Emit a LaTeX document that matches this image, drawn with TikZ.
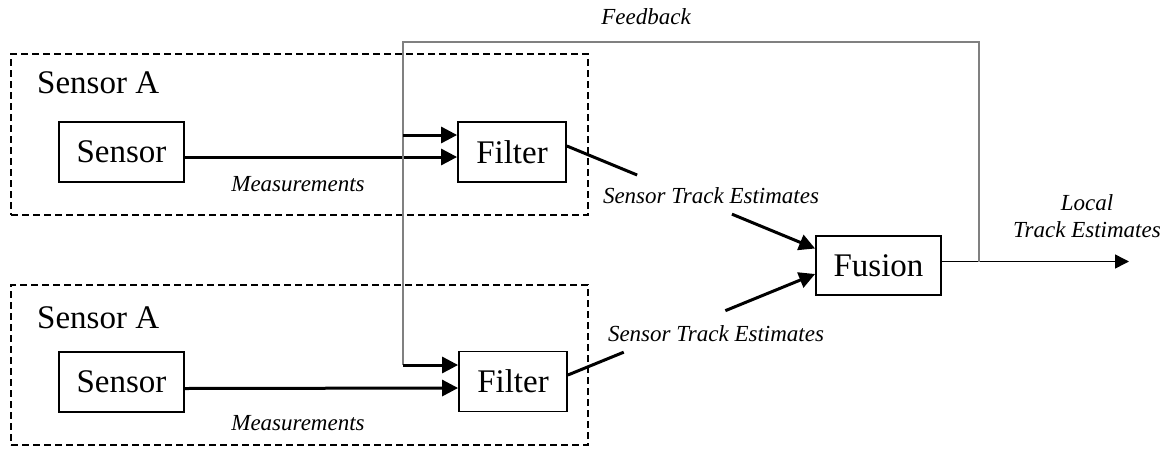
\documentclass[tikz,border=0pt]{standalone}
\usepackage{fontspec}
\setmainfont{Liberation Serif}
\usetikzlibrary{arrows.meta}
\begin{document}
\begin{tikzpicture}[x=1pt,y=-1pt,
  blk/.style={draw, line width=1.8pt, inner sep=0pt, font=\fontsize{33}{33}\selectfont},
  grp/.style={draw, line width=1.7pt, dash pattern=on 7pt off 4pt, inner sep=0pt, minimum width=577pt},
  lbl/.style={font=\fontsize{23}{27}\selectfont\itshape, inner sep=1pt},
  big/.style={font=\fontsize{33}{33}\selectfont, inner sep=0pt},
  thk/.style={line width=3pt},
  tip/.style={-{Triangle[length=16pt,width=16pt]}},
  otip/.style={-{Triangle[length=14pt,width=14pt]}},
  fb/.style={draw=black!50, line width=1.5pt}
]
\useasboundingbox (0,0) rectangle (1171,448);

% group boxes
\node[grp, minimum height=161pt] (gA) at (299.5,134.5) {};
\node[grp, minimum height=160pt] (gB) at (299.5,365) {};
\node[big, anchor=base west] (tA) at (37,93) {Sensor A};
\node[big, anchor=base west] (tB) at (37,328) {Sensor A};

% blocks
\node[blk, minimum width=125pt, minimum height=60pt] (s1) at (121.5,152) {Sensor};
\node[blk, minimum width=108pt, minimum height=60pt] (f1) at (512,152) {Filter};
\node[blk, minimum width=125pt, minimum height=60pt] (s2) at (121.5,382) {Sensor};
\node[blk, minimum width=108pt, minimum height=60pt] (f2) at (513,381.5) {Filter};
\node[blk, minimum width=125pt, minimum height=59pt] (fu) at (878.5,265.5) {Fusion};

% measurements
\draw[thk,tip] ([yshift=-5pt]s1.east) -- ([yshift=-5pt]f1.west);
\draw[thk,tip] ([yshift=-6.5pt]s2.east) -- ([yshift=-6.5pt]f2.west);

% output and feedback
\coordinate (out) at (1129,261.5);
\coordinate (j) at (979,261.5);
\coordinate (c1) at (979,42);
\coordinate (c2) at (403,42);
\coordinate (inA) at ([yshift=17pt]f1.west);
\coordinate (inB) at ([yshift=16.5pt]f2.west);
\draw[line width=1.5pt, otip] ([yshift=4pt]fu.east) -- (out);
\draw[fb] (j) -- (c1) -- (c2) -- (c2 |- inB);
\draw[thk,tip] (c2 |- inA) -- (inA);
\draw[thk,tip] (c2 |- inB) -- (inB);

% filter to fusion
\path ([yshift=6pt]f1.east) -- coordinate[pos=0.283] (a1) coordinate[pos=0.665] (b1) ([yshift=17pt]fu.west);
\draw[thk] ([yshift=6pt]f1.east) -- (a1);
\draw[thk,tip] (b1) -- ([yshift=17pt]fu.west);
\path ([yshift=6.5pt]f2.east) -- coordinate[pos=0.226] (a2) coordinate[pos=0.637] (b2) ([yshift=-8.5pt]fu.west);
\draw[thk] ([yshift=6.5pt]f2.east) -- (a2);
\draw[thk,tip] (b2) -- ([yshift=-8.5pt]fu.west);

% labels
\node[lbl] (m1) at (298,184) {Measurements};
\node[lbl] (m2) at (298,423) {Measurements};
\node[lbl] (e1) at (711,196) {Sensor Track Estimates};
\node[lbl] (e2) at (716,334) {Sensor Track Estimates};
\node[lbl] (fbl) at (646,17) {Feedback};
\node[lbl, align=center] (loc) at (1087,216.5) {Local\\Track Estimates};
\end{tikzpicture}
\end{document}
